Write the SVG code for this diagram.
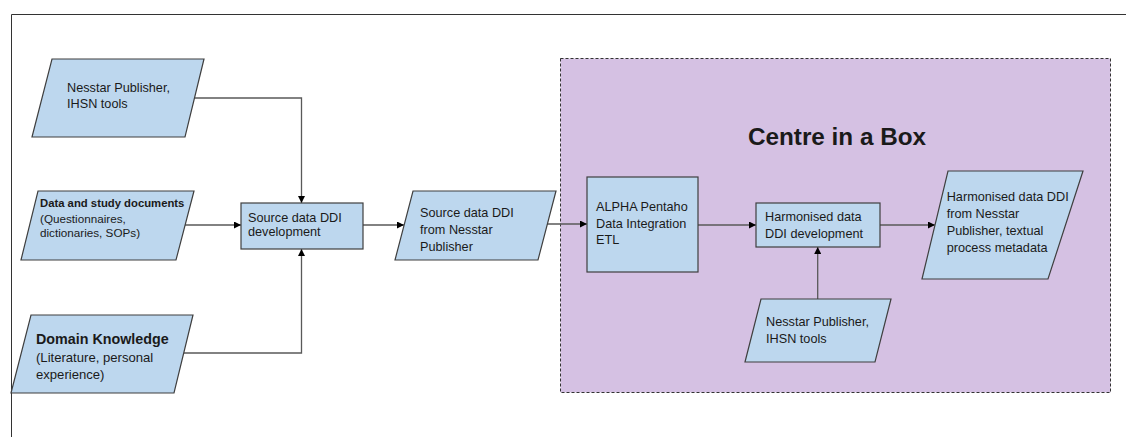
<svg xmlns="http://www.w3.org/2000/svg" width="1126" height="437" viewBox="0 0 1126 437">
  <style>
    .node { fill: #bdd7ee; stroke: #3f3f3f; stroke-width: 1.2; }
    .t { font-family: "Liberation Sans", Arial, sans-serif; font-size: 12.7px; fill: #1a1a1a; }
    .b { font-weight: bold; }
    .conn { fill: none; stroke: #595959; stroke-width: 1.3; }
  </style>
  <defs>
    <marker id="arr" viewBox="0 0 10 10" refX="10" refY="5" markerWidth="7" markerHeight="7" markerUnits="userSpaceOnUse" orient="auto">
      <path d="M0,0 L10,5 L0,10 Z" fill="#000"/>
    </marker>
  </defs>
  <rect width="1126" height="437" fill="#ffffff"/>
  <path d="M11.5,437 V14.5 H1126" fill="none" stroke="#333" stroke-width="1"/>

  <g id="centre-in-a-box">
    <rect x="560.5" y="58.5" width="550" height="334" fill="#d5c1e3" stroke="#333" stroke-width="1" stroke-dasharray="3,2"/>
    <text x="837" y="145" text-anchor="middle" class="t b" style="font-size:24.3px" fill="#000">Centre in a Box</text>
  </g>

  <g id="connectors">
    <polyline class="conn" points="194.5,98 301.5,98 301.5,203" marker-end="url(#arr)"/>
    <polyline class="conn" points="185,225 241,225" marker-end="url(#arr)"/>
    <polyline class="conn" points="183.7,353 301.5,353 301.5,249" marker-end="url(#arr)"/>
    <polyline class="conn" points="363,225 404,225" marker-end="url(#arr)"/>
    <polyline class="conn" points="547,224 587,224" marker-end="url(#arr)"/>
    <polyline class="conn" points="698,225 756,225" marker-end="url(#arr)"/>
    <polyline class="conn" points="880,225 935,225" marker-end="url(#arr)"/>
    <polyline class="conn" points="817.7,299 817.7,247" marker-end="url(#arr)"/>
  </g>

  <g id="nesstar-publisher-1">
    <polygon class="node" points="52,59 204,59 185,137 32,137"/>
    <text class="t" x="67" y="92">Nesstar Publisher,</text>
    <text class="t" x="67" y="108">IHSN tools</text>
  </g>

  <g id="data-study-documents">
    <polygon class="node" points="38,191 194,191 176,260 21,260"/>
    <text class="t b" x="40" y="207" style="font-size:11.3px">Data and study documents</text>
    <text class="t" x="40" y="223" style="font-size:11.7px">(Questionnaires,</text>
    <text class="t" x="40" y="236.5" style="font-size:11.7px">dictionaries, SOPs)</text>
  </g>

  <g id="domain-knowledge">
    <polygon class="node" points="31,315 193,315 174,393 11,393"/>
    <text class="t b" x="36" y="344" style="font-size:14.3px">Domain Knowledge</text>
    <text class="t" x="36" y="362" style="font-size:13.1px">(Literature, personal</text>
    <text class="t" x="36" y="379" style="font-size:13.1px">experience)</text>
  </g>

  <g id="source-ddi-development">
    <rect class="node" x="241" y="203" width="122" height="46"/>
    <text class="t" x="248" y="221.7">Source data DDI</text>
    <text class="t" x="248" y="236">development</text>
  </g>

  <g id="source-ddi-nesstar">
    <polygon class="node" points="413,191 556,191 538,260 395,260"/>
    <text class="t" x="420" y="217">Source data DDI</text>
    <text class="t" x="420" y="234">from Nesstar</text>
    <text class="t" x="420" y="251">Publisher</text>
  </g>

  <g id="alpha-pentaho">
    <rect class="node" x="587" y="177" width="111" height="95"/>
    <text class="t" x="596" y="211">ALPHA Pentaho</text>
    <text class="t" x="596" y="227.5">Data Integration</text>
    <text class="t" x="596" y="244">ETL</text>
  </g>

  <g id="harmonised-ddi-development">
    <rect class="node" x="756" y="203" width="124" height="44"/>
    <text class="t" x="765" y="221">Harmonised data</text>
    <text class="t" x="765" y="237.5">DDI development</text>
  </g>

  <g id="harmonised-ddi-nesstar">
    <polygon class="node" points="948,171 1083,171 1048,279 922,279"/>
    <text class="t" x="946.7" y="200.7">Harmonised data DDI</text>
    <text class="t" x="946.7" y="217.7">from Nesstar</text>
    <text class="t" x="946.7" y="235">Publisher, textual</text>
    <text class="t" x="946.7" y="251.7">process metadata</text>
  </g>

  <g id="nesstar-publisher-2">
    <polygon class="node" points="761,299 891,299 875,362 745,362"/>
    <text class="t" x="766" y="326">Nesstar Publisher,</text>
    <text class="t" x="766" y="342.5">IHSN tools</text>
  </g>
</svg>
